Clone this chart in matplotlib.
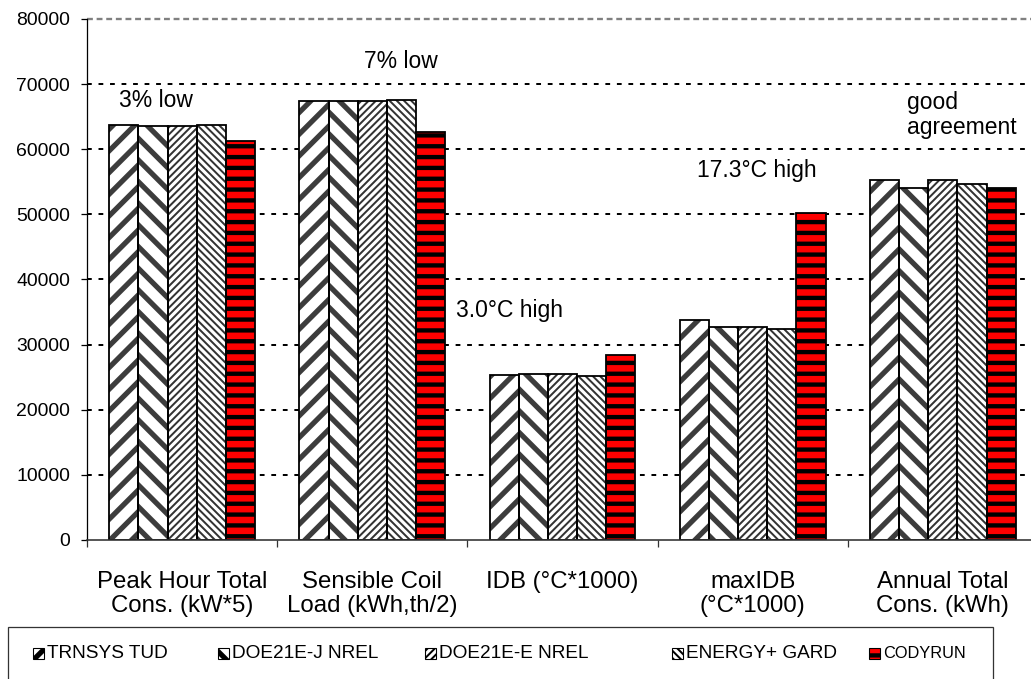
import matplotlib
matplotlib.use("Agg")

import numpy as np
import matplotlib.pyplot as plt
from matplotlib.patches import Rectangle

# ── data ─────────────────────────────────
categories = [
    "Peak Hour Total\nCons. (kW*5)",
    "Sensible Coil\nLoad (kWh,th/2)",
    "IDB (°C*1000)",
    "maxIDB\n(°C*1000)",
    "Annual Total\nCons. (kWh)",
]
programs = ["TRNSYS TUD", "DOE21E-J NREL", "DOE21E-E NREL", "ENERGY+ GARD", "CODYRUN"]

trnsys_tud = [63800, 67400, 25300, 33800, 55300]
doe21e_j_nrel = [63600, 67400, 25500, 32700, 54000]
doe21e_e_nrel = [63600, 67450, 25500, 32700, 55300]
energyplus_gard = [63700, 67550, 25200, 32400, 54700]
codyrun = [61200, 62700, 28400, 50200, 54100]

y_ticks = [0, 10000, 20000, 30000, 40000, 50000, 60000, 70000, 80000]

notes = ["3% low", "7% low", "3.0°C high", "17.3°C high", "good\nagreement"]

series = [trnsys_tud, doe21e_j_nrel, doe21e_e_nrel, energyplus_gard, codyrun]

# hatch, hatch line width, hatch colour, face colour
STYLES = [
    ("//", 2.9, "#3c3c3c", "white"),
    ("\\\\", 2.9, "#3c3c3c", "white"),
    ("//////", 1.1, "#333333", "white"),
    ("\\\\\\\\\\\\", 1.1, "#333333", "white"),
    ("--", 2.4, "black", "#FF0000"),
]

W, H, DPI = 1031, 679, 130
plt.rcParams["font.family"] = ["Liberation Sans", "DejaVu Sans"]

fig = plt.figure(figsize=(W / DPI, H / DPI), dpi=DPI)
fig.patch.set_facecolor("white")

# axes in pixel terms: left 87, right 1038 (runs off the page), top 19, bottom 540
ax = fig.add_axes([87 / W, 1 - 540 / H, 951 / W, 521 / H])
ax.set_axisbelow(True)

x = np.arange(len(categories))
bw = 0.1535
for i, (vals, (hatch, hlw, hcol, face)) in enumerate(zip(series, STYLES)):
    plt.rcParams["hatch.linewidth"] = hlw
    # hatched fill (hatch takes the edge colour) ...
    bars = ax.bar(x + (i - 2) * bw, vals, width=bw, color=face,
                  edgecolor=hcol, linewidth=0, hatch=hatch, zorder=3)
    for b in bars:
        if hasattr(b, "set_hatch_linewidth"):
            b.set_hatch_linewidth(hlw)
    # ... then a plain black outline on top
    ax.bar(x + (i - 2) * bw, vals, width=bw, fill=False,
           edgecolor="black", linewidth=1.0, zorder=4)

ax.set_xlim(-0.5, len(categories) - 0.5)
ax.set_ylim(0, 80000)

# gridlines: dotted black, grey dashed line at the top
for yv in y_ticks[1:-1]:
    ax.axhline(yv, color="black", linewidth=1.1, linestyle=(0, (2.4, 3.4)), zorder=1)
ax.axhline(y_ticks[-1], color="#808080", linewidth=1.3, linestyle=(0, (2.5, 1.6)),
           zorder=1, clip_on=False)

for side in ("top", "right"):
    ax.spines[side].set_visible(False)
ax.spines["left"].set_linewidth(0.7)
ax.spines["bottom"].set_linewidth(0.9)
ax.spines["bottom"].set_color("#333333")
ax.spines["bottom"].set_zorder(5)

ax.set_yticks(y_ticks)
ax.set_yticklabels([str(v) for v in y_ticks])
ax.tick_params(axis="y", direction="out", length=3.3, width=0.7, pad=6, labelsize=10.75)

ax.set_xticks(np.arange(-0.5, len(categories), 1.0))
ax.set_xticklabels([])
ax.set_xticks(x, minor=True)
ax.set_xticklabels(categories, minor=True, fontsize=13.3, linespacing=1.15)
ax.tick_params(axis="x", which="major", direction="out", length=3.9, width=0.7, color="#333333")
ax.tick_params(axis="x", which="minor", length=0, pad=17)

# comments above the groups
note_pos = [(-0.14, 67560, "center"), (1.15, 73400, "center"), (1.72, 35300, "center"),
            (3.02, 56800, "center"), (3.81, 65300, "left")]
for text, (nx, ny, ha) in zip(notes, note_pos):
    ax.text(nx, ny, text, ha=ha, va="center", fontsize=12.7, linespacing=1.1)

# legend box along the bottom, drawn in figure pixels
def fx(px):
    return px / W


def fy(py):
    return 1 - py / H


fig.add_artist(Rectangle((fx(8), fy(700)), 985 / W, 73 / H, transform=fig.transFigure,
                         fill=False, edgecolor="#333333", linewidth=0.7))

key_left = [33, 218, 425, 672, 869]
key_size = [10.5, 10.5, 10.5, 10.5, 9.1]
for name, left, fs, (hatch, hlw, hcol, face) in zip(programs, key_left, key_size, STYLES):
    plt.rcParams["hatch.linewidth"] = hlw
    key = Rectangle((fx(left), fy(659)), 11 / W, 11 / H, transform=fig.transFigure,
                    facecolor=face, edgecolor="black", linewidth=0.6, hatch=hatch)
    if hasattr(key, "set_hatch_linewidth"):
        key.set_hatch_linewidth(hlw)
    fig.add_artist(key)
    fig.text(fx(left + 14), fy(654), name, ha="left", va="center", fontsize=fs)

fig.savefig("out.png", dpi=DPI, facecolor="white")
plt.close(fig)
